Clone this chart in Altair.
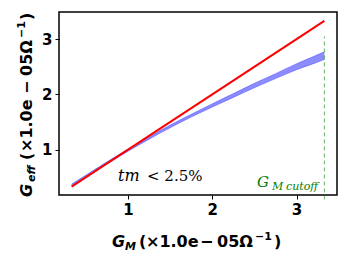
import altair as alt
import pandas as pd

# Blue band (fit uncertainty)
band_x = [0.33, 0.5, 0.75, 1.0, 1.25, 1.5, 1.75, 2.0, 2.25, 2.5, 2.75, 3.0, 3.2, 3.33]
band_lo = [0.34, 0.50, 0.74, 0.97, 1.19, 1.395, 1.59, 1.77, 1.945, 2.12, 2.285, 2.445, 2.555, 2.63]
band_hi = [0.38, 0.54, 0.78, 1.01, 1.23, 1.445, 1.64, 1.83, 2.015, 2.20, 2.375, 2.555, 2.685, 2.77]

# Red identity line
red_x = [0.33, 3.33]
red_y = [0.33, 3.33]

cutoff_x = 3.33
cutoff_y = [0.1, 3.05]

x_ticks = [1, 2, 3]
y_ticks = [1, 2, 3]

band = pd.DataFrame({"x": band_x, "lo": band_lo, "hi": band_hi})
red = pd.DataFrame({"x": red_x, "y": red_y})
cut = pd.DataFrame({"x": [cutoff_x], "y": [cutoff_y[0]], "y2": [cutoff_y[1]]})

xs = alt.Scale(domain=[0.18, 3.48], nice=False, zero=False)
ys = alt.Scale(domain=[0.18, 3.49], nice=False, zero=False)
common_axis = dict(title=None, grid=False, domain=False, tickColor="black", tickWidth=1,
                   tickSize=4, labelFont="DejaVu Sans", labelFontWeight="bold", labelFontSize=15,
                   labelColor="black", labelPadding=3, format="d")
xax = alt.Axis(values=x_ticks, **common_axis)
yax = alt.Axis(values=y_ticks, **common_axis)

area = alt.Chart(band).mark_area(color="#0000ff", opacity=0.45, interpolate="monotone").encode(
    x=alt.X("x:Q", scale=xs, axis=xax),
    y=alt.Y("lo:Q", scale=ys, axis=yax),
    y2="hi:Q",
)
edge_lo = alt.Chart(band).mark_line(color="#0000ff", opacity=0.3, strokeWidth=1, interpolate="monotone").encode(
    x=alt.X("x:Q", scale=xs), y=alt.Y("lo:Q", scale=ys))
edge_hi = alt.Chart(band).mark_line(color="#0000ff", opacity=0.3, strokeWidth=1, interpolate="monotone").encode(
    x=alt.X("x:Q", scale=xs), y=alt.Y("hi:Q", scale=ys))

redline = alt.Chart(red).mark_line(color="#ff0000", strokeWidth=2).encode(
    x=alt.X("x:Q", scale=xs), y=alt.Y("y:Q", scale=ys))

rule = alt.Chart(cut).mark_rule(color="green", opacity=0.6, strokeDash=[4, 3], strokeWidth=1).encode(
    x=alt.X("x:Q", scale=xs), y=alt.Y("y:Q", scale=ys), y2="y2:Q")

one = pd.DataFrame({"a": [0]})


def txt(s, x, y, size, font="DejaVu Sans", weight="bold", style="normal", color="black", angle=0):
    return alt.Chart(one).mark_text(
        text=s, font=font, fontSize=size, fontWeight=weight, fontStyle=style, color=color,
        align="left", baseline="alphabetic", angle=angle,
    ).encode(x=alt.value(x), y=alt.value(y))


MATH = "DejaVu Serif"
labels = [
    # x title
    txt("G", 53, 235, 16, style="italic"),
    txt("M", 66, 238, 11, style="italic"),
    txt("(", 80, 235, 16),
    txt("×1.0e", 87, 235, 16),
    txt("−", 141, 235, 16),
    txt("05Ω", 158, 235, 16),
    txt("−1", 196, 228, 11),
    txt(")", 215, 235, 16),
    # y title (rotated)
    txt("G", -27, 185, 16, style="italic", angle=270),
    txt("eff", -24, 170, 11, style="italic", angle=270),
    txt("(", -27, 148, 16, angle=270),
    txt("×1.0e", -27, 140, 16, angle=270),
    txt("−", -27, 82, 16, angle=270),
    txt("05Ω", -27, 64, 16, angle=270),
    txt("−1", -34, 26, 11, angle=270),
    txt(")", -27, 8, 16, angle=270),
    # annotation
    txt("tm", 59, 169, 16, font=MATH, weight="normal", style="italic"),
    txt("< 2.5%", 88, 169, 15, font=MATH, weight="normal"),
    # cutoff label
    txt("G", 198, 175, 15, font=MATH, weight="normal", style="italic", color="green"),
    txt("M", 213, 178, 11, font=MATH, weight="normal", style="italic", color="green"),
    txt("cutoff", 227, 178, 11, font=MATH, weight="normal", style="italic", color="green"),
]

chart = alt.layer(area, edge_lo, edge_hi, redline, rule, *labels).properties(
    width=278, height=183,
    autosize="none",
    padding={"left": 51, "top": 4, "right": 3, "bottom": 60},
).configure_view(stroke="black", strokeWidth=1.5)

chart.save("out.html", embed_options={"renderer": "svg", "actions": False})
